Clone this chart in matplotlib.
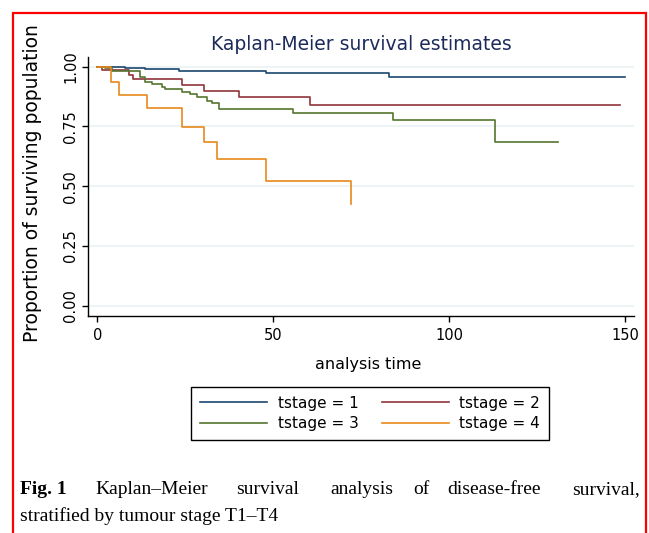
import matplotlib.pyplot as plt
from matplotlib.patches import Rectangle

# survival steps (time, proportion surviving)
t1 = [0, 7.9, 13.6, 23.2, 48.0, 82.9, 150.0]
s1 = [1.0, 0.994, 0.989, 0.981, 0.974, 0.957, 0.957]
t2 = [0, 1.3, 9.0, 10.0, 24.0, 30.2, 40.3, 60.4, 148.6]
s2 = [1.0, 0.985, 0.964, 0.947, 0.922, 0.897, 0.872, 0.838, 0.838]
t3 = [0, 2.2, 4.1, 12.2, 13.6, 15.5, 18.3, 19.3, 24.0, 26.4, 28.3, 31.1,
      32.5, 34.4, 55.6, 84.0, 112.9, 130.9]
s3 = [1.0, 0.992, 0.981, 0.957, 0.936, 0.929, 0.915, 0.906, 0.894, 0.885,
      0.874, 0.856, 0.846, 0.824, 0.808, 0.778, 0.683, 0.683]
t4 = [0, 3.9, 6.2, 14.1, 24.0, 30.3, 34.0, 48.0, 72.0]
s4 = [1.0, 0.936, 0.88, 0.825, 0.748, 0.683, 0.614, 0.524, 0.424]

labels = ['tstage = 1', 'tstage = 2', 'tstage = 3', 'tstage = 4']
colors = ['#1a476f', '#90353b', '#55752f', '#e8891a']
yticks = [0.0, 0.25, 0.5, 0.75, 1.0]
xticks = [0, 50, 100, 150]

W, H = 649, 533
fig = plt.figure(figsize=(W / 100, H / 100), dpi=100)
fig.patch.set_facecolor('white')

# red frame around the figure (open at the bottom)
fig.add_artist(Rectangle((13 / W, -0.05), (646 - 13) / W, 1.05 - 13 / H,
                         transform=fig.transFigure, fill=False,
                         edgecolor='#ff0000', linewidth=1.6))

ax = fig.add_axes([88 / W, 1 - 316 / H, (634 - 88) / W, (316 - 57) / H])
for t, s, c, lab in zip([t1, t2, t3, t4], [s1, s2, s3, s4], colors, labels):
    ax.step(t, s, where='post', color=c, linewidth=1.2, label=lab)

ax.set_xlim(-2.7, 152.5)
ax.set_ylim(-0.042, 1.04)
ax.set_xticks(xticks)
ax.set_yticks(yticks)
ax.set_yticklabels(['%.2f' % v for v in yticks], rotation=90, va='center')
ax.tick_params(axis='both', direction='out', length=4, width=1, labelsize=10.5)
ax.tick_params(axis='y', pad=3)
ax.tick_params(axis='x', pad=5)
ax.yaxis.grid(True, color='#eaf2f3', linewidth=1.2)
ax.set_axisbelow(True)
for side in ['top', 'right']:
    ax.spines[side].set_visible(False)
for side in ['left', 'bottom']:
    ax.spines[side].set_linewidth(1.0)

fig.text(361 / W, 1 - 44 / H, 'Kaplan-Meier survival estimates',
         ha='center', va='center', fontsize=13.5, color='#1c2b5a')
fig.text(33 / W, 1 - 183 / H, 'Proportion of surviving population',
         ha='center', va='center', rotation=90, fontsize=13.5)
fig.text(368 / W, 1 - 365 / H, 'analysis time',
         ha='center', va='center', fontsize=11.5)

# legend rows: 1 2 / 3 4 (matplotlib fills by column)
handles, labs = ax.get_legend_handles_labels()
order = [0, 2, 1, 3]
leg = fig.legend([handles[i] for i in order], [labs[i] for i in order],
                 ncol=2, loc='center',
                 bbox_to_anchor=(370 / W, 1 - 413.5 / H), fontsize=11,
                 handlelength=4.4, handletextpad=0.7, columnspacing=1.5,
                 labelspacing=0.35, borderpad=0.6, fancybox=False,
                 framealpha=1, edgecolor='black')
leg.get_frame().set_linewidth(1.0)

# caption, first line justified word by word
serif = 'Liberation Serif'
fig.text(20 / W, 1 - 490 / H, 'Fig. 1', fontsize=14, fontweight='bold',
         family=serif, va='center')
words = [('Kaplan–Meier', 95), ('survival', 236), ('analysis', 330),
         ('of', 413), ('disease-free', 447), ('survival,', 572)]
for w, x in words:
    fig.text(x / W, 1 - 490 / H, w, fontsize=14, family=serif, va='center')
fig.text(20 / W, 1 - 516 / H, 'stratified by tumour stage T1–T4',
         fontsize=14, family=serif, va='center')

fig.savefig('out.png', dpi=100)
